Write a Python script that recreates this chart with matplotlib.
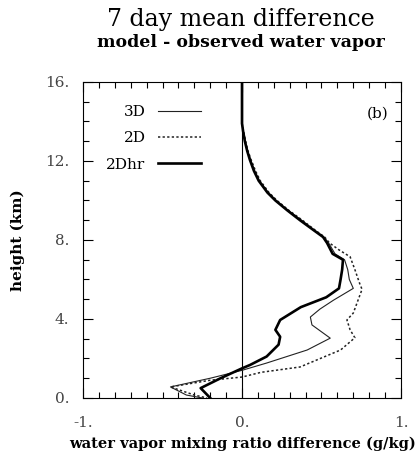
import matplotlib.pyplot as plt
from matplotlib.ticker import MultipleLocator

# heights (km) and model - observed mixing ratio difference (g/kg)
h_3d = [16.0, 13.9, 13.5, 13.0, 12.5, 12.05, 11.5, 11.0, 10.4, 10.0, 9.5, 9.0, 8.5,
        8.15, 7.85, 7.3, 7.0, 6.5, 6.0, 5.55, 4.95, 4.5, 4.1, 3.7, 3.03, 2.43, 1.77,
        1.4, 1.0, 0.56, 0.15, 0.0]
d_3d = [0.0, 0.0, 0.008, 0.02, 0.035, 0.055, 0.08, 0.11, 0.165, 0.215, 0.29, 0.375,
        0.455, 0.515, 0.545, 0.585, 0.645, 0.665, 0.675, 0.70, 0.575, 0.49, 0.43, 0.44,
        0.555, 0.41, 0.155, 0.0, -0.2, -0.45, -0.35, -0.25]

h_2d = [16.0, 13.9, 13.5, 13.0, 12.5, 12.05, 11.5, 11.0, 10.4, 10.0, 9.5, 9.0, 8.5,
        8.15, 7.85, 7.5, 7.15, 6.5, 5.8, 5.5, 4.3, 3.95, 3.45, 3.05, 2.43, 1.57, 1.3,
        1.06, 0.9, 0.56, 0.15, 0.0]
d_2d = [0.0, 0.0, 0.01, 0.023, 0.038, 0.058, 0.085, 0.115, 0.17, 0.22, 0.295, 0.38,
        0.46, 0.52, 0.55, 0.61, 0.68, 0.71, 0.74, 0.755, 0.70, 0.66, 0.68, 0.71, 0.62,
        0.365, 0.12, 0.0, -0.2, -0.45, -0.3, -0.22]

h_2dhr = [16.0, 13.9, 13.5, 13.0, 12.5, 12.05, 11.5, 11.0, 10.4, 10.0, 9.5, 9.0, 8.5,
          8.15, 7.85, 7.3, 7.0, 6.5, 6.0, 5.55, 5.1, 4.6, 3.95, 3.45, 3.1, 2.7, 2.1,
          1.67, 1.5, 1.0, 0.5, 0.0]
d_2dhr = [0.0, 0.0, 0.007, 0.018, 0.033, 0.05, 0.075, 0.105, 0.16, 0.21, 0.285, 0.365,
          0.45, 0.51, 0.535, 0.57, 0.635, 0.63, 0.62, 0.61, 0.53, 0.37, 0.24, 0.21, 0.24,
          0.23, 0.155, 0.05, 0.0, -0.135, -0.26, -0.2]

plt.rcParams['font.family'] = 'DejaVu Serif'

fig = plt.figure(figsize=(4.18, 4.55), dpi=100)
ax = fig.add_axes([0.1986, 0.1253, 0.7607, 0.6945])

ax.axvline(0, color="black", lw=0.8)
ax.plot(d_3d, h_3d, color="#222222", lw=0.8, label="3D")
ax.plot(d_2d, h_2d, color="#222222", lw=1.1, dashes=(1.5, 1.5), label="2D")
ax.plot(d_2dhr, h_2dhr, color="black", lw=1.9, label="2Dhr")

ax.set_xlim(-1, 1)
ax.set_ylim(0, 16)
ax.xaxis.set_minor_locator(MultipleLocator(0.1))
ax.yaxis.set_minor_locator(MultipleLocator(1))
ax.set_xticks([-1, 0, 1])
ax.set_xticklabels(["-1.", "0.", "1."])
ax.set_yticks([0, 4, 8, 12, 16])
ax.set_yticklabels(["0.", "4.", "8.", "12.", "16."])
ax.tick_params(which="both", direction="in", top=True, right=True, width=0.8,
               labelsize=11, labelcolor="#444444")
ax.tick_params(which="major", length=7)
ax.tick_params(which="minor", length=4)
ax.tick_params(axis="x", pad=13)
ax.tick_params(axis="y", pad=10)
for s in ax.spines.values():
    s.set_linewidth(0.8)

ax.legend(loc="upper left", frameon=False, markerfirst=False, handlelength=2.8,
          fontsize=11, bbox_to_anchor=(0.03, 0.97), labelspacing=0.8)
ax.text(0.96, 0.9, "(b)", transform=ax.transAxes, ha="right", va="center", fontsize=11)

fig.text(0.577, 0.958, "7 day mean difference", ha="center", va="center", fontsize=17)
fig.text(0.577, 0.907, "model - observed water vapor", ha="center", va="center",
         fontsize=12.5, fontweight="bold")
ax.set_xlabel("water vapor mixing ratio difference (g/kg)", fontsize=10.5,
              fontweight="bold", labelpad=5)
ax.set_ylabel("height (km)", fontsize=11, fontweight="bold", labelpad=14)

plt.savefig("out.png", dpi=100)
